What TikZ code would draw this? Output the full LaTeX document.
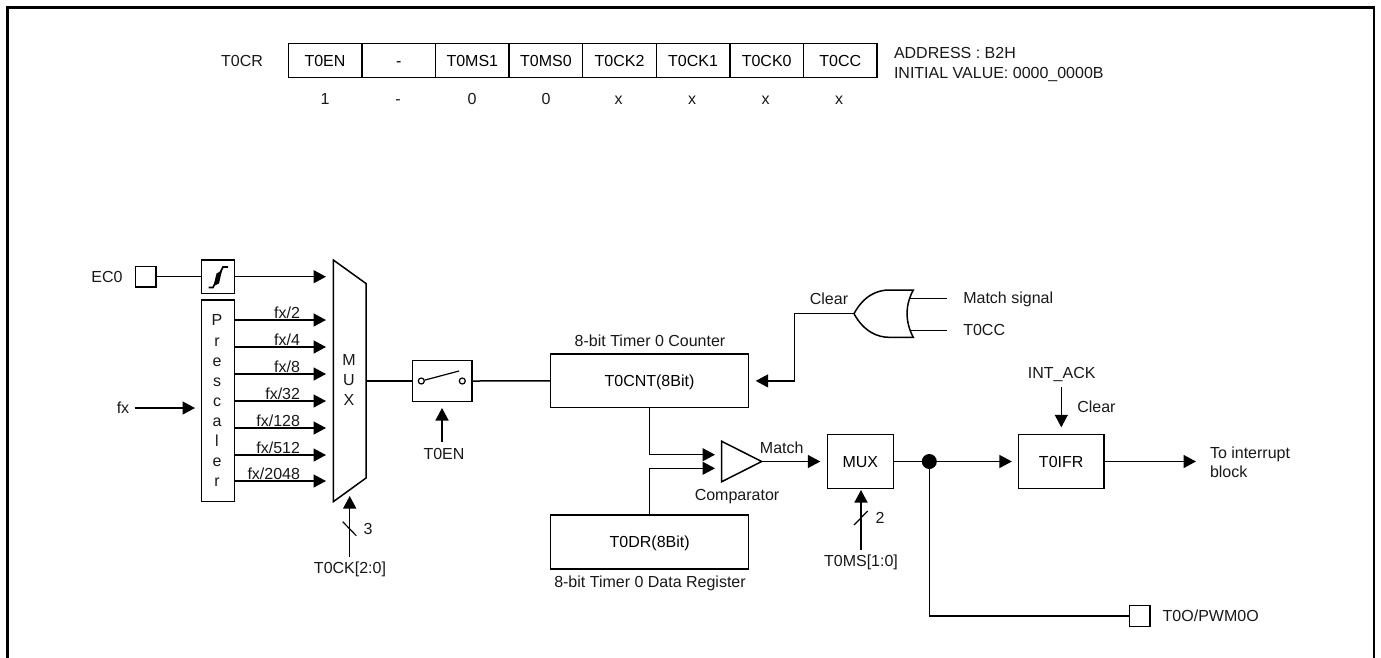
\documentclass[tikz,border=0pt]{standalone}
\usepackage{fontspec}
\setmainfont{Liberation Sans}
\usetikzlibrary{arrows.meta,calc}
\tikzset{
  wire/.style={line width=1.5pt,draw=black},
  sig/.style={wire,-{Triangle[length=12.5pt,width=13pt]}},
  boxn/.style={draw=black,line width=1.3pt,inner sep=0pt,outer sep=0pt,anchor=center,font=\fontsize{16}{18}\selectfont,text height=11.5pt,text depth=0pt},
  lab/.style={inner sep=0pt,outer sep=0pt,font=\fontsize{16}{18}\selectfont,text=black!90,text height=11.5pt,text depth=0pt},
  labl/.style={lab,anchor=west,align=left},
  cell/.style={boxn,minimum width=73.6pt,minimum height=34pt},
  pad/.style={boxn,minimum width=20.5pt,minimum height=20.5pt},
  dotn/.style={circle,fill=black,inner sep=0pt,minimum size=15pt},
  poleh/.style={circle,draw=black,line width=1.2pt,fill=white,inner sep=0pt,minimum size=6pt}
}
\begin{document}
\begin{tikzpicture}[x=1pt,y=-1pt]
\useasboundingbox (0,0) rectangle (1381,657);
\fill[white] (0,0) rectangle (1381,657);
% frame
\draw[line width=2.6pt,line join=miter] (7.5,658) -- (7.5,7.5) -- (1374,7.5) -- (1374,658);
% register
\node[lab] (rname) at (242,61) {T0CR};
\foreach \nm/\t/\cx/\v/\vx in {c1/T0EN/325/1/325,c2/-/398.7/-/398,c3/T0MS1/472.3/0/472,c4/T0MS0/545.9/0/546,c5/T0CK2/619.5/x/618.5,c6/T0CK1/693.1/x/692,c7/T0CK0/766.7/x/765.5,c8/T0CC/840.3/x/839}{
  \node[cell] (\nm) at (\cx,60.7) {\t};
  \node[lab] (v\nm) at (\vx,98.5) {\v};
}
\node[labl] (addr) at (894,53) {ADDRESS : B2H};
\node[labl] (init) at (894,72.5) {INITIAL VALUE: 0000\_0000B};
% EC0 input
\node[lab] (ec0) at (107,277) {EC0};
\node[pad] (ecpad) at (145.7,276.7) {};
\node[boxn,minimum width=33.4pt,minimum height=33.4pt] (filt) at (218,276.7) {};
\draw[line width=1.7pt,line join=miter] (208.5,287.5) -- (213,287.5) -- (223,267) -- (228,267);
\fill (213.5,286) -- (216.5,273.5) -- (222,270.5) -- (219,283.5) -- cycle;
\coordinate (m0) at (326,276.7);
\draw[wire] (ecpad.east) -- (filt.west);
\draw[sig] (filt.east) -- (m0);
% prescaler
\node[boxn,minimum width=33.4pt,minimum height=201.7pt] (pre) at (218,400.8) {};
\foreach \ch/\yy in {P/320,r/341,e/361,s/381,c/401,a/421,l/441,e/461,r/481}{
  \node[lab] at (217,\yy) {\ch};
}
\node[lab] (fx) at (123,408) {fx};
\coordinate (fxs) at (135,408);
\coordinate (fxt) at (195,408);
\draw[sig] (fxs) -- (fxt);
\foreach \i/\t/\yy in {1/fx\slash 2/320,2/fx\slash 4/347,3/fx\slash 8/374,4/fx\slash 32/401,5/fx\slash 128/428,6/fx\slash 512/455,7/fx\slash 2048/481}{
  \coordinate (m\i) at (326,\yy);
  \draw[sig] (m\i -| pre.east) -- (m\i);
  \node[lab,anchor=east] (f\i) at (300,\yy-7) {\t};
}
% mux 1
\draw[line width=1.5pt,line join=miter] (333.3,260) -- (366,283.5) -- (366,478) -- (333.3,501.7) -- cycle;
\coordinate (muxo) at (366,381);
\node[lab] (mxa) at (349,360) {M};
\node[lab] (mxb) at (349,380) {U};
\node[lab] (mxc) at (349,400) {X};
\coordinate (cks) at (349.7,557);
\coordinate (ckt) at (349.7,496);
\draw[sig] (cks) -- (ckt);
\draw[line width=1.2pt] (342.7,521.7) -- (356.3,535.7);
\node[lab] (n3) at (368,529) {3};
\node[lab] (ck) at (350,568) {T0CK[2:0]};
% switch
\node[boxn,minimum width=59.7pt,minimum height=40.6pt] (sw) at (442.2,381) {};
\node[poleh] (pa) at (421.3,381) {};
\node[poleh] (pb) at (462.3,381) {};
\draw[line width=1.2pt] (pa) -- (459,371);
\node[boxn,minimum width=198.4pt,minimum height=53.7pt] (cnt) at (649.5,380.9) {T0CNT(8Bit)};
\node[lab] (cntl) at (650,340.5) {8-bit Timer 0 Counter};
\draw[wire] (muxo) -- (sw.west);
\draw[wire] (sw.east) -- (cnt.west);
\coordinate (ens) at (442,442);
\coordinate (ent) at (442,408);
\draw[sig] (ens) -- (ent);
\node[lab] (en) at (444,454) {T0EN};
% T0DR
\node[boxn,minimum width=198pt,minimum height=54pt] (dr) at (649.7,542) {T0DR(8Bit)};
\node[lab] (drl) at (650,581.7) {8-bit Timer 0 Data Register};
% comparator
\draw[line width=1.5pt,line join=miter] (721.7,441.3) -- (761.7,461.5) -- (721.7,481.7) -- cycle;
\coordinate (cmpa) at (715,454.7);
\coordinate (cmpb) at (715,468.3);
\coordinate (cmpo) at (761.7,461.5);
\draw[sig] (cnt.south) -- (cnt.south |- cmpa) -- (cmpa);
\draw[sig] (dr.north) -- (dr.north |- cmpb) -- (cmpb);
\node[lab] (cmpl) at (737,494.5) {Comparator};
\node[lab] (matl) at (781.7,447.5) {Match};
% mux 2
\node[boxn,minimum width=66pt,minimum height=53.6pt] (mx2) at (860.3,461.5) {MUX};
\draw[sig] (cmpo) -- ([xshift=-7pt]mx2.west);
\coordinate (mss) at (861,550);
\coordinate (mst) at (861,490);
\draw[sig] (mss) -- (mst);
\draw[line width=1.2pt] (854,525) -- (867.7,511);
\node[lab] (n2) at (880,518) {2};
\node[lab] (ms) at (861,561) {T0MS[1:0]};
% T0IFR
\node[boxn,minimum width=85.7pt,minimum height=53.6pt] (ifr) at (1061.2,461.5) {T0IFR};
\node[dotn] (jn) at (929.3,461.5) {};
\draw[wire] (mx2.east) -- (jn);
\draw[sig] (jn) -- ([xshift=-6.5pt]ifr.west);
\coordinate (outt) at (1196,461.5);
\draw[sig] (ifr.east) -- (outt);
\node[labl] (outl) at (1210,453) {To interrupt};
\node[labl] (outm) at (1210,472) {block};
\coordinate (ias) at (1061.3,387.3);
\coordinate (iat) at (1061.3,427.3);
\draw[sig] (ias) -- (iat);
\node[lab] (ia) at (1061.7,373) {INT\_ACK};
\node[labl] (clr2) at (1077.3,407) {Clear};
% PWM output
\node[pad] (pwm) at (1139.7,616) {};
\node[labl] (pwml) at (1162.7,616) {T0O/PWM0O};
\draw[wire] (jn) |- (pwm.west);
% OR gate
\coordinate (ort) at (854,313.7);
\draw[line width=1.5pt,line join=miter] (ort) .. controls (864,295) and (878,290) .. (889,290) -- (913.3,290)
   .. controls (905,305) and (905,322) .. (913.3,337.3) -- (889,337.3) .. controls (878,337.3) and (864,332) .. (ort);
\coordinate (ora) at (910,298.3);
\coordinate (orb) at (910,330.3);
\coordinate (orae) at (946.7,298.3);
\coordinate (orbe) at (946.7,330.3);
\draw[wire] (ora) -- (orae);
\draw[wire] (orb) -- (orbe);
\node[labl] (ms1) at (963.3,297.5) {Match signal};
\node[labl] (tc) at (963.3,330) {T0CC};
\node[lab] (clr1) at (829,299) {Clear};
\coordinate (cln) at (794.3,313.7);
\draw[sig] (ort) -- (cln) |- ([xshift=7pt]cnt.east);
\end{tikzpicture}
\end{document}
